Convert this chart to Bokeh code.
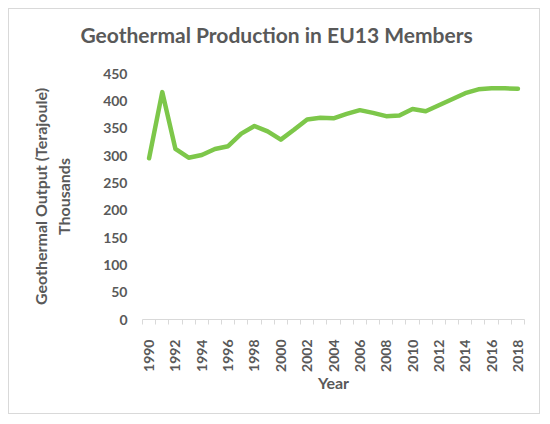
import numpy as np
from bokeh.plotting import figure
from bokeh.models import ColumnDataSource, FixedTicker, Range1d, Title
from bokeh.embed import file_html
from bokeh.resources import INLINE

# Geothermal production, thousand TJ
years = list(range(1990, 2019))
output = [295, 416, 312, 296, 301, 312, 317, 340, 354, 344, 329, 347, 366, 369,
          368, 376, 383, 378, 372, 373, 385, 381, 392, 403, 414, 421, 423, 423, 422]
x_labels = [str(y) for y in range(1990, 2019, 2)]
y_ticks = list(range(0, 451, 50))

grey = "#595959"
font = "Lato"

source = ColumnDataSource(dict(year=years, output=output))

p = figure(width=532, height=406, output_backend="svg", toolbar_location=None,
           x_range=Range1d(1989.5, 2018.5), y_range=Range1d(0, 450),
           min_border_left=133, min_border_right=17, min_border_top=64,
           min_border_bottom=96)
p.styles = {"border": "1px solid #d9d9d9", "margin": "8px 0 0 8px"}

p.line("year", "output", source=source, line_color="#7dc74a", line_width=4.5,
       line_join="round", line_cap="round")

# blank spacer title to lift the real one away from the plot area
p.add_layout(Title(text=" ", text_font_size="9px"), "above")
# title: left aligned and pulled left so it sits centred over the whole chart
p.add_layout(Title(text="Geothermal Production in EU13 Members",
                   text_font=font, text_font_size="21px",
                   text_font_style="bold", text_color=grey,
                   align="left", offset=-62), "above")

# x axis: tick marks between categories, labels every other year
p.xaxis.ticker = FixedTicker(ticks=list(range(1990, 2019, 2)),
                             minor_ticks=list(np.arange(1989.5, 2019, 1.0)))
p.xaxis.major_label_overrides = {int(s): s for s in x_labels}
p.xaxis.major_label_orientation = np.pi / 2
p.xaxis.major_tick_line_color = None
p.xaxis.minor_tick_line_color = "#d9d9d9"
p.xaxis.minor_tick_in = 0
p.xaxis.minor_tick_out = 5
p.xaxis.axis_line_color = "#d9d9d9"
p.xaxis.major_label_standoff = 14
p.xaxis.axis_label = "Year"
p.xaxis.axis_label_standoff = -2

# y axis: labels only
p.yaxis.ticker = FixedTicker(ticks=y_ticks)
p.yaxis.axis_line_color = None
p.yaxis.major_tick_line_color = None
p.yaxis.major_tick_out = 0
p.yaxis.minor_tick_line_color = None
p.yaxis.major_label_standoff = 15
p.yaxis.axis_label = "Geothermal Output (Terajoule)\nThousands"
p.yaxis.axis_label_standoff = 27

for ax in (p.xaxis, p.yaxis):
    ax.major_label_text_font = font
    ax.major_label_text_font_size = "14px"
    ax.major_label_text_font_style = "bold"
    ax.major_label_text_color = grey
    ax.axis_label_text_font = font
    ax.axis_label_text_font_size = "16px"
    ax.axis_label_text_font_style = "bold"
    ax.axis_label_text_color = grey

p.xgrid.grid_line_color = None
p.ygrid.grid_line_color = None
p.outline_line_color = None

open("out.html", "w").write(file_html(p, INLINE))
